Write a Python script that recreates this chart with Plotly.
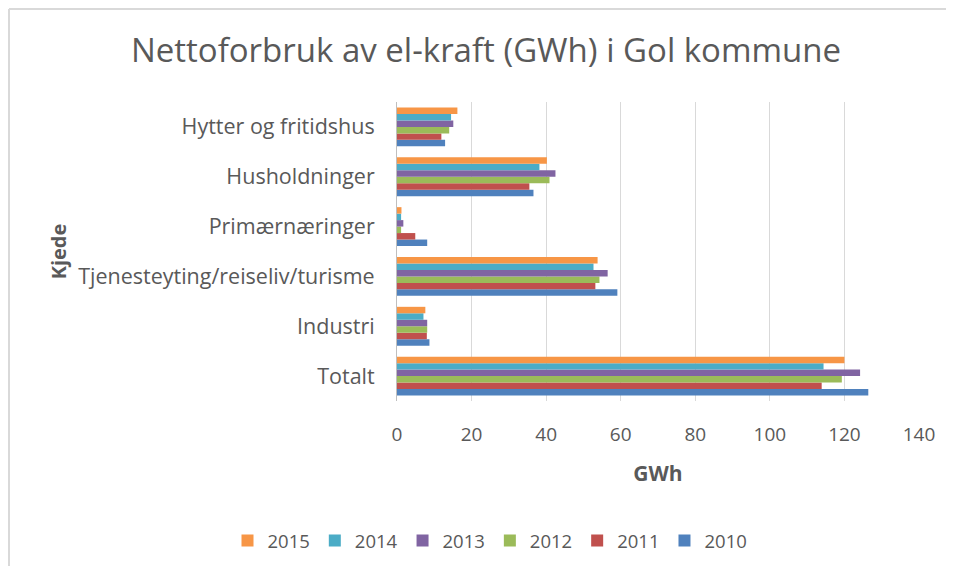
import plotly.graph_objects as go

# categories from bottom to top as drawn
categories = ["Totalt", "Industri", "Tjenesteyting/reiseliv/turisme",
              "Primærnæringer", "Husholdninger", "Hytter og fritidshus"]
years = ["2010", "2011", "2012", "2013", "2014", "2015"]
v2010 = [126.4, 8.7, 59.1, 8.1, 36.6, 12.9]
v2011 = [113.9, 8.0, 53.2, 4.9, 35.5, 11.9]
v2012 = [119.3, 8.1, 54.3, 1.1, 40.9, 14.0]
v2013 = [124.2, 8.1, 56.5, 1.7, 42.5, 15.1]
v2014 = [114.4, 7.1, 52.7, 1.1, 38.2, 14.5]
v2015 = [120.0, 7.6, 53.8, 1.2, 40.2, 16.2]
series = [v2010, v2011, v2012, v2013, v2014, v2015]
colors = ["#4F81BD", "#C0504D", "#9BBB59", "#8064A2", "#4BACC6", "#F79646"]

FONT = "Open Sans, Lato, sans-serif"
GRAY = "#595959"

fig = go.Figure()
for y, vals, c in zip(years, series, colors):
    fig.add_trace(go.Bar(x=vals, y=categories, orientation="h", name=y,
                         marker=dict(color=c, line=dict(width=0))))

OFF = 8  # page body margin
W, H = 954 - 2 * OFF, 574 - 2 * OFF
# plot area in screen pixels: x 397..919, y 102..401
L = 397 - OFF
T = 102 - OFF
R = W - (919 - OFF)
B = H - (401 - OFF)
pw = W - L - R
ph = H - T - B


def px_x(p):
    return (p - OFF - L) / pw


def px_y(p):
    return (H - B - (p - OFF)) / ph


fig.update_layout(
    width=W, height=H,
    margin=dict(l=L, r=R, t=T, b=B, autoexpand=False),
    paper_bgcolor="white", plot_bgcolor="white",
    barmode="group", bargap=0.22, bargroupgap=0,
    font=dict(family=FONT, color=GRAY, size=20),
    title=dict(text="Nettoforbruk av el-kraft (GWh) i Gol kommune",
               x=px_x(486), xanchor="center", xref="paper",
               y=1 - (50 - OFF) / H, yanchor="middle",
               font=dict(size=33, color=GRAY, family=FONT)),
    xaxis=dict(range=[0, 140], dtick=20, showgrid=True, gridcolor="#D9D9D9",
               gridwidth=1, zeroline=False, showline=False,
               ticks="", ticklabelstandoff=20,
               tickfont=dict(size=19, color=GRAY),
               title=dict(text="<b>GWh</b>", standoff=20,
                          font=dict(size=21, color=GRAY))),
    yaxis=dict(showgrid=False, showline=True, linecolor="#BFBFBF", linewidth=1,
               ticks="", ticklabelstandoff=17,
               tickfont=dict(size=21.5, color=GRAY),
               title=dict(text="<b>Kjede</b>", standoff=6,
                          font=dict(size=20, color=GRAY))),
    legend=dict(orientation="h", traceorder="reversed",
                x=px_x(490), xanchor="center", y=px_y(541), yanchor="middle",
                font=dict(size=18.5, color=GRAY), itemwidth=30,
                itemsizing="constant"),
    shapes=[
        dict(type="line", xref="paper", yref="paper",
             x0=px_x(9), x1=px_x(9), y0=px_y(574), y1=px_y(9),
             line=dict(color="#D9D9D9", width=2)),
        dict(type="line", xref="paper", yref="paper",
             x0=px_x(9), x1=px_x(954), y0=px_y(9), y1=px_y(9),
             line=dict(color="#D9D9D9", width=2)),
    ],
)

fig.write_html("out.html")
